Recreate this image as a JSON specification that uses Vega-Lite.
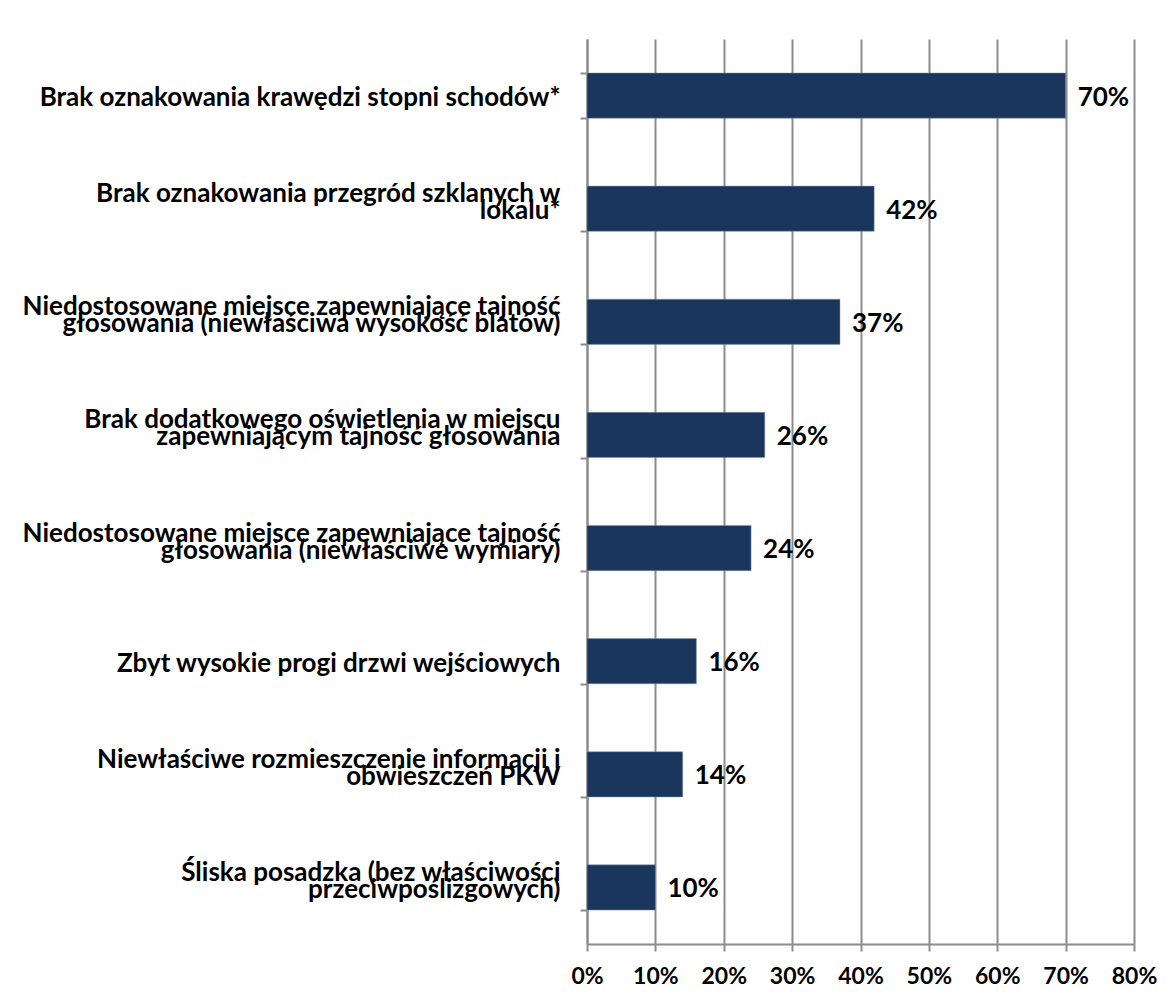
{
  "$schema": "https://vega.github.io/schema/vega-lite/v6.json",
  "width": 547,
  "height": 905,
  "autosize": {"type": "none"},
  "padding": {"left": 587, "top": 39, "right": 39, "bottom": 60},
  "background": "white",
  "config": {
    "view": {"stroke": null},
    "font": "Lato",
    "axis": {"labelFont": "Lato", "labelFontWeight": "bold", "labelColor": "#000000", "domainColor": "#8c8c8c", "tickColor": "#8c8c8c", "gridColor": "#8c8c8c", "domainWidth": 2, "tickWidth": 2, "gridWidth": 2}
  },
  "data": {
    "values": [
      {"label": "Brak oznakowania krawędzi stopni schodów*", "value": 0.70},
      {"label": "Brak oznakowania przegród szklanych w|lokalu*", "value": 0.42},
      {"label": "Niedostosowane miejsce zapewniające tajność|głosowania (niewłaściwa wysokość blatów)", "value": 0.37},
      {"label": "Brak dodatkowego oświetlenia w miejscu|zapewniającym tajność głosowania", "value": 0.26},
      {"label": "Niedostosowane miejsce zapewniające tajność|głosowania (niewłaściwe wymiary)", "value": 0.24},
      {"label": "Zbyt wysokie progi drzwi wejściowych", "value": 0.16},
      {"label": "Niewłaściwe rozmieszczenie  informacji i|obwieszczeń PKW", "value": 0.14},
      {"label": "Śliska posadzka (bez właściwości|przeciwpoślizgowych)", "value": 0.10}
    ]
  },
  "encoding": {
    "y": {
      "field": "label",
      "type": "nominal",
      "sort": null,
      "scale": {"paddingInner": 0.6, "paddingOuter": 0.3},
      "axis": {
        "title": null,
        "labelExpr": "indexof(datum.label, '|') >= 0 ? [split(datum.label, '|')[0], '\u00a0', split(datum.label, '|')[1]] : ['\u00a0', datum.label]",
        "labelFontSize": 26,
        "labelLineHeight": 17,
        "labelPadding": 20,
        "labelOffset": -15,
        "tickSize": 7,
        "tickBand": "extent",
        "labelLimit": 600,
        "grid": false
      }
    },
    "x": {
      "field": "value",
      "type": "quantitative",
      "scale": {"domain": [0, 0.8], "nice": false},
      "axis": {
        "title": null,
        "format": ".0%",
        "values": [0, 0.1, 0.2, 0.3, 0.4, 0.5, 0.6, 0.7, 0.8],
        "grid": true,
        "tickSize": 7,
        "labelFontSize": 23,
        "labelPadding": 14,
        "labelFlush": false,
        "labelOverlap": false
      }
    }
  },
  "layer": [
    {"mark": {"type": "bar", "color": "#1b365d", "stroke": "#8497b0", "strokeWidth": 0.5}},
    {
      "mark": {"type": "text", "align": "left", "baseline": "middle", "dx": 12, "dy": 2, "fontSize": 26, "fontWeight": "bold", "font": "Lato", "color": "#000000"},
      "encoding": {"text": {"field": "value", "type": "quantitative", "format": ".0%"}}
    }
  ]
}
